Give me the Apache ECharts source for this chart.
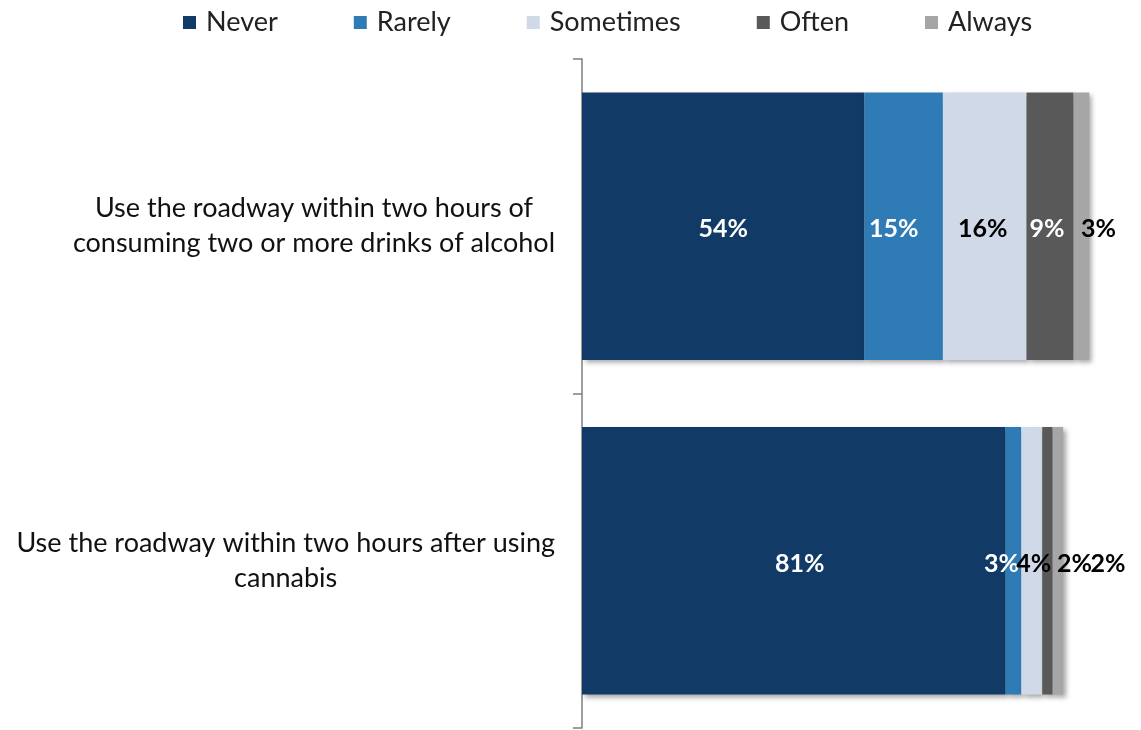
<!DOCTYPE html>
<html>
<head>
<meta charset="utf-8">
<script src="https://cdn.jsdelivr.net/npm/echarts@6/dist/echarts.min.js"></script>
<style>
  html, body { margin: 0; padding: 0; background: #fff; }
  #chart { width: 1141px; height: 730px; }
</style>
</head>
<body>
<div id="chart"></div>
<script>
const categories = [
  'Use the roadway within two hours of\nconsuming two or more drinks of alcohol',
  'Use the roadway within two hours after using\ncannabis'
]
const seriesNames = ['Never', 'Rarely', 'Sometimes', 'Often', 'Always']
const never = [54, 81]
const rarely = [15, 3]
const sometimes = [16, 4]
const often = [9, 2]
const always = [3, 2]

const colors = ['#123a66', '#2e7bb6', '#d0d9e7', '#595959', '#a6a6a6']
// label colour / nudge per series, per bar (small segments in excel get pushed aside)
const labelColors = [
  ['#fff', '#fff'],
  ['#fff', '#fff'],
  ['#000', '#000'],
  ['#fff', '#000'],
  ['#000', '#000']
]
const labelNudge = [
  [0, 6],
  [-10, -12],
  [-2, 2],
  [-3, 27],
  [17, 50]
]
const fontFamily = 'Lato, "Open Sans", sans-serif'

const chart = echarts.init(document.getElementById('chart'))

const values = [never, rarely, sometimes, often, always]

const option = {
  animation: false,
  color: colors,
  textStyle: { fontFamily: fontFamily },
  legend: {
    top: 4,
    left: 178,
    icon: 'rect',
    itemWidth: 13,
    itemHeight: 13,
    itemGap: 76,
    textStyle: {
      fontSize: 27,
      color: '#222',
      fontFamily: fontFamily,
      padding: [0, 0, 0, 5]
    },
    data: seriesNames
  },
  grid: {
    left: 582,
    right: 36,
    top: 59,
    bottom: 2
  },
  xAxis: {
    type: 'value',
    min: 0,
    max: 100,
    show: false
  },
  yAxis: {
    type: 'category',
    inverse: true,
    data: categories,
    axisLine: { show: true, lineStyle: { color: '#7f7f7f', width: 1.5 } },
    axisTick: { show: true, length: 9, lineStyle: { color: '#7f7f7f', width: 1.5 } },
    axisLabel: {
      margin: 27,
      formatter (v) {
        return v.split('\n').map(l => '{c|' + l + '}').join('\n')
      },
      rich: {
        c: {
          align: 'center',
          fontSize: 27,
          lineHeight: 35,
          color: '#111',
          fontFamily: fontFamily
        }
      }
    }
  },
  series: seriesNames.map((name, i) => ({
    name: name,
    type: 'bar',
    stack: 'total',
    barWidth: '80%',
    itemStyle: {
      shadowColor: 'rgba(0,0,0,0.35)',
      shadowBlur: 5,
      shadowOffsetX: 3,
      shadowOffsetY: 3
    },
    data: values[i].map((v, j) => ({
      value: v,
      label: {
        color: labelColors[i][j],
        offset: [labelNudge[i][j], 3]
      }
    })),
    label: {
      show: true,
      position: 'inside',
      formatter: '{c}%',
      fontSize: 25,
      fontWeight: 'bold',
      fontFamily: fontFamily
    }
  }))
}

chart.setOption(option)
</script>
</body>
</html>
